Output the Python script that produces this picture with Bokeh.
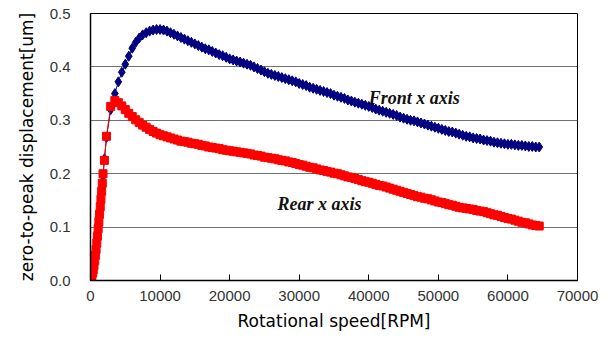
from bokeh.plotting import figure
from bokeh.models import Range1d, FixedTicker, NumeralTickFormatter, Label
from bokeh.embed import file_html
from bokeh.resources import INLINE

# Rotational speed [RPM]
rpm_low = [0, 100, 200, 300, 400, 500, 600, 700, 800, 900, 1000, 1100, 1200,
           1300, 1400, 1500, 1600, 1700, 1800, 2000, 2300, 2900, 3500]
rpm_high = [4000, 4500, 5000, 5500, 6000, 6500, 7000, 7500, 8000, 8500, 9000, 9500,
            10000, 10500, 11000, 11500, 12000, 12500, 13000, 13500, 14000, 14500,
            15000, 15500, 16000, 16500, 17000, 17500, 18000, 18500, 19000, 19500,
            20000, 20500, 21000, 21500, 22000, 22500, 23000, 23500, 24000, 24500,
            25000, 25500, 26000, 26500, 27000, 27500, 28000, 28500, 29000, 29500,
            30000, 30500, 31000, 31500, 32000, 32500, 33000, 33500, 34000, 34500,
            35000, 35500, 36000, 36500, 37000, 37500, 38000, 38500, 39000, 39500,
            40000, 40500, 41000, 41500, 42000, 42500, 43000, 43500, 44000, 44500,
            45000, 45500, 46000, 46500, 47000, 47500, 48000, 48500, 49000, 49500,
            50000, 50500, 51000, 51500, 52000, 52500, 53000, 53500, 54000, 54500,
            55000, 55500, 56000, 56500, 57000, 57500, 58000, 58500, 59000, 59500,
            60000, 60500, 61000, 61500, 62000, 62500, 63000, 63500, 64000, 64500]

front_low = [0.0, 0.002, 0.005, 0.010, 0.016, 0.024, 0.033, 0.043, 0.054, 0.066, 0.079,
             0.092, 0.106, 0.120, 0.134, 0.148, 0.163, 0.178, 0.195, 0.228, 0.268, 0.320, 0.350]
front_high = [0.372, 0.390, 0.405, 0.420, 0.435, 0.446, 0.454, 0.460, 0.464, 0.467, 0.469, 0.470,
              0.470, 0.469, 0.467, 0.464, 0.461, 0.458, 0.455, 0.452, 0.449, 0.446,
              0.443, 0.440, 0.437, 0.434, 0.432, 0.429, 0.426, 0.423, 0.421, 0.418,
              0.415, 0.413, 0.411, 0.409, 0.407, 0.405, 0.403, 0.400, 0.397, 0.394,
              0.391, 0.388, 0.386, 0.384, 0.382, 0.380, 0.378, 0.376, 0.374, 0.372,
              0.369, 0.367, 0.365, 0.362, 0.360, 0.358, 0.356, 0.354, 0.352, 0.350,
              0.347, 0.345, 0.343, 0.341, 0.338, 0.336, 0.334, 0.332, 0.330, 0.328,
              0.326, 0.324, 0.321, 0.319, 0.317, 0.315, 0.313, 0.311, 0.309, 0.306,
              0.304, 0.302, 0.300, 0.299, 0.297, 0.295, 0.293, 0.291, 0.289, 0.287,
              0.285, 0.283, 0.281, 0.279, 0.278, 0.276, 0.274, 0.272, 0.270, 0.269,
              0.267, 0.266, 0.265, 0.263, 0.262, 0.261, 0.259, 0.258, 0.257, 0.256,
              0.255, 0.255, 0.254, 0.253, 0.253, 0.252, 0.251, 0.251, 0.250, 0.250]

rear_low = [0.002, 0.005, 0.009, 0.014, 0.020, 0.028, 0.037, 0.047, 0.058, 0.070, 0.083,
            0.097, 0.110, 0.124, 0.138, 0.152, 0.167, 0.182, 0.200, 0.225, 0.270, 0.326, 0.337]
rear_high = [0.333, 0.327, 0.320, 0.313, 0.307, 0.301, 0.296, 0.291, 0.287, 0.283, 0.279, 0.276,
             0.273, 0.271, 0.269, 0.267, 0.265, 0.263, 0.261, 0.260, 0.259, 0.257,
             0.256, 0.255, 0.253, 0.252, 0.250, 0.249, 0.248, 0.247, 0.245, 0.244,
             0.243, 0.242, 0.241, 0.240, 0.239, 0.238, 0.237, 0.235, 0.234, 0.233,
             0.231, 0.230, 0.229, 0.228, 0.226, 0.225, 0.224, 0.222, 0.221, 0.219,
             0.217, 0.216, 0.214, 0.212, 0.211, 0.209, 0.207, 0.206, 0.204, 0.203,
             0.201, 0.200, 0.198, 0.196, 0.194, 0.193, 0.191, 0.189, 0.187, 0.185,
             0.184, 0.182, 0.180, 0.178, 0.177, 0.175, 0.173, 0.171, 0.169, 0.167,
             0.165, 0.163, 0.161, 0.159, 0.157, 0.156, 0.154, 0.153, 0.151, 0.149,
             0.147, 0.146, 0.144, 0.142, 0.141, 0.139, 0.137, 0.136, 0.135, 0.134,
             0.133, 0.131, 0.130, 0.129, 0.127, 0.125, 0.123, 0.122, 0.120, 0.118,
             0.116, 0.115, 0.113, 0.111, 0.109, 0.108, 0.106, 0.104, 0.103, 0.102]

x_ticks = [0, 10000, 20000, 30000, 40000, 50000, 60000, 70000]
y_ticks = [0.0, 0.1, 0.2, 0.3, 0.4, 0.5]

rpm = rpm_low + rpm_high
front = front_low + front_high
rear = rear_low + rear_high

p = figure(width=613, height=346, output_backend="svg", toolbar_location=None,
           x_range=Range1d(0, 70000), y_range=Range1d(0, 0.5),
           min_border_left=90, min_border_right=36, min_border_top=13, min_border_bottom=66)
p.background_fill_color = "white"
p.border_fill_color = "white"
p.outline_line_color = "black"
p.outline_line_width = 1

p.xgrid.visible = False
p.ygrid.ticker = FixedTicker(ticks=y_ticks)
p.ygrid.grid_line_color = "#707070"
p.ygrid.grid_line_width = 1

p.xaxis.ticker = FixedTicker(ticks=x_ticks)
p.yaxis.ticker = FixedTicker(ticks=y_ticks)
p.xaxis.formatter = NumeralTickFormatter(format="0")
p.yaxis.formatter = NumeralTickFormatter(format="0.0")
p.xaxis.minor_tick_line_color = None
p.yaxis.minor_tick_line_color = None
p.xaxis.major_tick_in = 6
p.xaxis.major_tick_out = 0
p.yaxis.major_tick_in = 0
p.yaxis.major_tick_out = 0
p.axis.axis_line_color = "black"
p.axis.axis_line_width = 1.5
p.axis.major_tick_line_color = "black"
p.axis.major_label_text_font = "Liberation Sans"
p.axis.major_label_text_font_size = "15px"
p.axis.major_label_text_color = "#333333"
p.xaxis.major_label_standoff = 10
p.yaxis.major_label_standoff = 20

p.xaxis.axis_label = "Rotational speed[RPM]"
p.yaxis.axis_label = "zero-to-peak displacement[um]"
p.axis.axis_label_text_font = "DejaVu Sans"
p.axis.axis_label_text_font_style = "normal"
p.axis.axis_label_text_font_size = "17px"
p.axis.axis_label_text_color = "black"
p.xaxis.axis_label_standoff = 7
p.yaxis.axis_label_standoff = 10

p.line(rpm, front, line_color="#000080", line_width=1)
p.scatter(rpm, front, marker="diamond", size=10, fill_color="#000080", line_color="#000080")
p.line(rpm, rear, line_color="#FF0000", line_width=1)
p.scatter(rpm, rear, marker="square", size=8, fill_color="#FF0000", line_color="#FF0000")

p.add_layout(Label(x=40000, y=0.341, text="Front x axis", text_font="Liberation Serif",
                   text_font_style="bold italic", text_font_size="18px", text_color="#111111",
                   text_baseline="alphabetic"))
p.add_layout(Label(x=26870, y=0.144, text="Rear x axis", text_font="Liberation Serif",
                   text_font_style="bold italic", text_font_size="18px", text_color="#111111",
                   text_baseline="alphabetic"))

open("out.html", "w").write(file_html(p, INLINE))
